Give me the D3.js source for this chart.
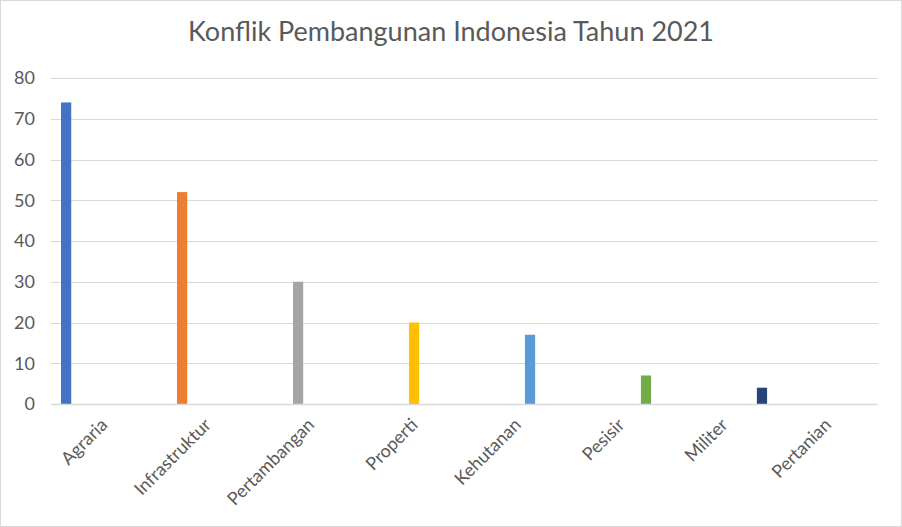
<!DOCTYPE html>
<html><head><meta charset="utf-8">
<script src="https://cdn.jsdelivr.net/npm/d3@7"></script>
<style>body{margin:0;background:#fff}svg{display:block}text{font-family:Lato,"Open Sans",sans-serif}</style>
</head><body>
<svg id="c" width="902" height="527"></svg>
<script>
const title = "Konflik Pembangunan Indonesia Tahun 2021";
const categories = ["Agraria","Infrastruktur","Pertambangan","Properti","Kehutanan","Pesisir","Militer","Pertanian"];
const values = [74, 52, 30, 20, 17, 7, 4, 0];
const colors = ["#4472C4","#ED7D31","#A5A5A5","#FFC000","#5B9BD5","#70AD47","#264478","#9E480E"];
const yTicks = [0,10,20,30,40,50,60,70,80];

const svg = d3.select("#c");
const W = 902, H = 527;
const m = {left:51, right:24, top:78, bottom:123};

svg.append("rect").attr("x",0.5).attr("y",0.5).attr("width",W-1).attr("height",H-1)
  .attr("fill","#fff").attr("stroke","#d9d9d9");

const x0 = d3.scaleBand().domain(categories).range([m.left, W-m.right]).padding(0);
const bw = x0.bandwidth();
// each category is its own series, offset within the cluster
const x1 = d3.scaleBand().domain(categories)
  .range([bw*0.097, bw*0.097 + 8*bw*0.119]).paddingInner(0.19).paddingOuter(0);
const y = d3.scaleLinear().domain([0,80]).range([H-m.bottom, m.top]);

svg.append("g").selectAll("line").data(yTicks).join("line")
  .attr("x1", m.left).attr("x2", W-m.right)
  .attr("y1", d=>Math.round(y(d))+0.5).attr("y2", d=>Math.round(y(d))+0.5)
  .attr("stroke","#d9d9d9").attr("stroke-width",1);

svg.append("g").selectAll("rect").data(categories).join("rect")
  .attr("x", (d,i)=>x0(d)+x1(d))
  .attr("width", x1.bandwidth())
  .attr("y", (d,i)=>y(values[i]))
  .attr("height", (d,i)=>y(0)-y(values[i]))
  .attr("fill", (d,i)=>colors[i]);

svg.append("line").attr("x1",m.left).attr("x2",W-m.right)
  .attr("y1",Math.round(y(0))+0.5).attr("y2",Math.round(y(0))+0.5)
  .attr("stroke","#d9d9d9").attr("stroke-width",1.5);

svg.append("g").selectAll("text").data(yTicks).join("text")
  .attr("x", 35).attr("y", d=>y(d)).attr("dy","0.35em")
  .attr("text-anchor","end").attr("fill","#595959").attr("font-size",18)
  .text(d=>d);

svg.append("g").selectAll("text").data(categories).join("text")
  .attr("transform", d=>`translate(${x0(d)+bw/2+6},${y(0)+22}) rotate(-45)`)
  .attr("text-anchor","end").attr("fill","#595959").attr("font-size",18)
  .text(d=>d);

svg.append("text").attr("x", W/2).attr("y", 41).attr("text-anchor","middle")
  .attr("fill","#595959").attr("font-size",27).text(title);
</script>
</body></html>
